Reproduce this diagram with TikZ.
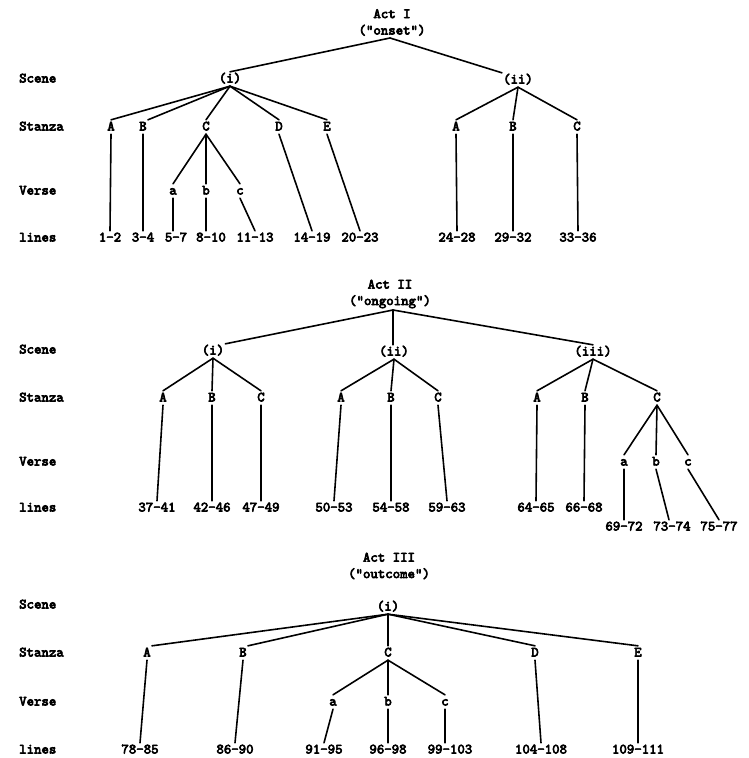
\documentclass[tikz,border=0pt]{standalone}
\usepackage{fontspec}
\newfontfamily\typew{lmmono10-regular.otf}[FakeBold=4.5]
\tikzset{
  lbl/.style={font=\typew\fontsize{14.2}{17}\selectfont,
    inner sep=1pt, text height=9.5pt, text depth=2.5pt},
  rowname/.style={lbl, anchor=west},
  acttitle/.style={font=\typew\fontsize{14.2}{16.5}\selectfont,
    align=center, inner sep=0pt},
  edge/.style={line width=1.6pt, line cap=round}
}
\begin{document}
\begin{tikzpicture}[x=1bp,y=-1bp]
\useasboundingbox (0,0) rectangle (749,758);
\fill[white] (0,0) rectangle (749,758);

% ---------------- Act I ----------------
\node[acttitle] (t1) at (392,22.5) {Act I\\("onset")};
\coordinate (j1) at (390,38);
\node[rowname] (r1s) at (18,79) {Scene};
\node[rowname] (r1t) at (18,127) {Stanza};
\node[rowname] (r1v) at (18,191) {Verse};
\node[rowname] (r1l) at (18,238) {lines};

\node[lbl] (s1a) at (230,79) {(i)};
\node[lbl] (s1b) at (518,80) {(ii)};

\node[lbl] (z1A) at (111,127) {A};
\node[lbl] (z1B) at (143,127) {B};
\node[lbl] (z1C) at (206,127) {C};
\node[lbl] (z1D) at (279,127) {D};
\node[lbl] (z1E) at (327,127) {E};
\node[lbl] (z1F) at (456,127) {A};
\node[lbl] (z1G) at (513,127) {B};
\node[lbl] (z1H) at (577,127) {C};

\node[lbl] (v1a) at (173,191) {a};
\node[lbl] (v1b) at (206,191) {b};
\node[lbl] (v1c) at (240,191) {c};

\node[lbl] (l1a) at (110,238) {1-2};
\node[lbl] (l1b) at (143,238) {3-4};
\node[lbl] (l1c) at (176,238) {5-7};
\node[lbl] (l1d) at (211,238) {8-10};
\node[lbl] (l1e) at (255,238) {11-13};
\node[lbl] (l1f) at (312,238) {14-19};
\node[lbl] (l1g) at (360,238) {20-23};
\node[lbl] (l1h) at (457,238) {24-28};
\node[lbl] (l1i) at (513,238) {29-32};
\node[lbl] (l1j) at (578,238) {33-36};

\draw[edge] (j1) -- (s1a.north);
\draw[edge] (j1) -- (s1b.north west);
\draw[edge] (s1a.south) -- (z1A.north);
\draw[edge] (s1a.south) -- (z1B.north east);
\draw[edge] (s1a.south) -- (z1C.north);
\draw[edge] (s1a.south) -- (z1D.north);
\draw[edge] (s1a.south) -- (z1E.north);
\draw[edge] (s1b.south) -- (z1F.north);
\draw[edge] (s1b.south) -- (z1G.north);
\draw[edge] (s1b.south) -- (z1H.north);
\draw[edge] (z1C.south) -- (v1a.north);
\draw[edge] (z1C.south) -- (v1b.north);
\draw[edge] (z1C.south) -- (v1c.north);
\draw[edge] (z1A.south) -- (l1a.north);
\draw[edge] (z1B.south) -- (z1B.south |- l1b.north);
\draw[edge] (v1a.south) -- (v1a.south |- l1c.north);
\draw[edge] (v1b.south) -- (v1b.south |- l1d.north);
\draw[edge] (v1c.south) -- (l1e.north);
\draw[edge] (z1D.south) -- (l1f.north);
\draw[edge] (z1E.south) -- (l1g.north);
\draw[edge] (z1F.south) -- (l1h.north);
\draw[edge] (z1G.south) -- (l1i.north);
\draw[edge] (z1H.south) -- (l1j.north);

% ---------------- Act II ----------------
\node[acttitle] (t2) at (390,294) {Act II\\("ongoing")};
\coordinate (j2) at (393,310);
\node[rowname] (r2s) at (18,350) {Scene};
\node[rowname] (r2t) at (18,398) {Stanza};
\node[rowname] (r2v) at (18,462) {Verse};
\node[rowname] (r2l) at (18,508) {lines};

\node[lbl] (s2a) at (213,351) {(i)};
\node[lbl] (s2b) at (394,352) {(ii)};
\node[lbl] (s2c) at (593,352) {(iii)};

\node[lbl] (z2A) at (163,398) {A};
\node[lbl] (z2B) at (212,398) {B};
\node[lbl] (z2C) at (261,398) {C};
\node[lbl] (z2D) at (341,398) {A};
\node[lbl] (z2E) at (391,398) {B};
\node[lbl] (z2F) at (438,398) {C};
\node[lbl] (z2G) at (537,398) {A};
\node[lbl] (z2H) at (585,398) {B};
\node[lbl] (z2I) at (657,398) {C};

\node[lbl] (v2a) at (624,462) {a};
\node[lbl] (v2b) at (656,462) {b};
\node[lbl] (v2c) at (688,462) {c};

\node[lbl] (l2a) at (157,508) {37-41};
\node[lbl] (l2b) at (212,508) {42-46};
\node[lbl] (l2c) at (261,508) {47-49};
\node[lbl] (l2d) at (334,508) {50-53};
\node[lbl] (l2e) at (391,508) {54-58};
\node[lbl] (l2f) at (447,508) {59-63};
\node[lbl] (l2g) at (536,508) {64-65};
\node[lbl] (l2h) at (584,508) {66-68};
\node[lbl] (l2i) at (624,527) {69-72};
\node[lbl] (l2j) at (672,527) {73-74};
\node[lbl] (l2k) at (719,527) {75-77};

\draw[edge] (j2) -- (s2a.north east);
\draw[edge] (j2) -- (j2 |- s2b.north);
\draw[edge] (j2) -- (s2c.north);
\draw[edge] (s2a.south) -- (z2A.north);
\draw[edge] (s2a.south) -- (z2B.north);
\draw[edge] (s2a.south) -- (z2C.north);
\draw[edge] (s2b.south) -- (z2D.north);
\draw[edge] (s2b.south) -- (z2E.north);
\draw[edge] (s2b.south) -- (z2F.north);
\draw[edge] (s2c.south) -- (z2G.north);
\draw[edge] (s2c.south) -- (z2H.north);
\draw[edge] (s2c.south) -- (z2I.north);
\draw[edge] (z2I.south) -- (v2a.north);
\draw[edge] (z2I.south) -- (v2b.north);
\draw[edge] (z2I.south) -- (v2c.north);
\draw[edge] (z2A.south) -- (l2a.north);
\draw[edge] (z2B.south) -- (l2b.north);
\draw[edge] (z2C.south) -- (l2c.north);
\draw[edge] (z2D.south) -- (l2d.north);
\draw[edge] (z2E.south) -- (l2e.north);
\draw[edge] (z2F.south) -- (l2f.north);
\draw[edge] (z2G.south) -- (l2g.north);
\draw[edge] (z2H.south) -- (l2h.north);
\draw[edge] (v2a.south) -- (v2a.south |- l2i.north);
\draw[edge] (v2b.south) -- ([xshift=-3bp]l2j.north);
\draw[edge] (v2c.south) -- (l2k.north);

% ---------------- Act III ----------------
\node[acttitle] (t3) at (389,566) {Act III\\("outcome")};
\node[rowname] (r3s) at (18,605) {Scene};
\node[rowname] (r3t) at (18,653) {Stanza};
\node[rowname] (r3v) at (18,702) {Verse};
\node[rowname] (r3l) at (18,750) {lines};

\node[lbl] (s3a) at (388,607) {(i)};

\node[lbl] (z3A) at (147,653) {A};
\node[lbl] (z3B) at (243,653) {B};
\node[lbl] (z3C) at (388,653) {C};
\node[lbl] (z3D) at (535,653) {D};
\node[lbl] (z3E) at (638,653) {E};

\node[lbl] (v3a) at (333,702) {a};
\node[lbl] (v3b) at (388,702) {b};
\node[lbl] (v3c) at (445,702) {c};

\node[lbl] (l3a) at (140,750) {78-85};
\node[lbl] (l3b) at (235,750) {86-90};
\node[lbl] (l3c) at (324,750) {91-95};
\node[lbl] (l3d) at (388,750) {96-98};
\node[lbl] (l3e) at (450,750) {99-103};
\node[lbl] (l3f) at (541,750) {104-108};
\node[lbl] (l3g) at (638,750) {109-111};

\draw[edge] (s3a.south) -- (z3A.north east);
\draw[edge] (s3a.south) -- (z3B.north east);
\draw[edge] (s3a.south) -- (z3C.north);
\draw[edge] (s3a.south) -- (z3D.north);
\draw[edge] (s3a.south) -- (z3E.north);
\draw[edge] (z3C.south) -- (v3a.north);
\draw[edge] (z3C.south) -- (v3b.north);
\draw[edge] (z3C.south) -- (v3c.north);
\draw[edge] (z3A.south) -- (l3a.north);
\draw[edge] (z3B.south) -- (l3b.north);
\draw[edge] (v3a.south) -- (l3c.north);
\draw[edge] (v3b.south) -- (l3d.north);
\draw[edge] (v3c.south) -- (v3c.south |- l3e.north);
\draw[edge] (z3D.south) -- (l3f.north);
\draw[edge] (z3E.south) -- (l3g.north);
\end{tikzpicture}
\end{document}
